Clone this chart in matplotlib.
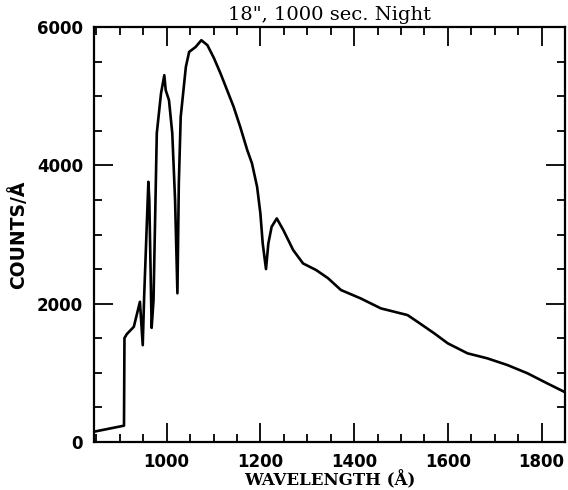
import matplotlib
matplotlib.use("Agg")
import matplotlib.pyplot as plt
from matplotlib.ticker import MultipleLocator

title = '18", 1000 sec. Night'
xlabel = "WAVELENGTH (Å)"
ylabel = "COUNTS/Å"

wavelength = [845, 909, 910, 915, 930, 943, 949, 952, 961, 963, 968, 972, 979,
              988, 995, 998, 1005, 1012, 1018, 1023, 1026, 1030, 1041, 1048,
              1062, 1074, 1087, 1101, 1115, 1129, 1143, 1157, 1172, 1182, 1193,
              1200, 1205, 1212, 1217, 1224, 1235, 1249, 1270, 1291, 1319, 1344,
              1372, 1414, 1457, 1514, 1535, 1571, 1600, 1642, 1684, 1727, 1770,
              1812, 1850]
counts = [149, 236, 1503, 1560, 1666, 2027, 1400, 2100, 3762, 3500, 1650, 2050,
          4465, 5040, 5303, 5087, 4942, 4465, 3497, 2150, 3740, 4700, 5423,
          5640, 5712, 5809, 5737, 5549, 5328, 5087, 4845, 4556, 4220, 4030,
          3690, 3306, 2870, 2500, 2870, 3111, 3232, 3064, 2775, 2582, 2486,
          2370, 2197, 2076, 1932, 1835, 1739, 1571, 1426, 1282, 1210, 1113,
          993, 848, 720]

xlim = (845, 1850)
ylim = (0, 6000)

fig = plt.figure(figsize=(5.68, 4.90), dpi=100)
ax = fig.add_axes([94 / 568, 48 / 490, (565 - 94) / 568, (442 - 27) / 490])

ax.plot(wavelength, counts, color="black", lw=1.9)
ax.set_xlim(*xlim)
ax.set_ylim(*ylim)

ax.xaxis.set_major_locator(MultipleLocator(200))
ax.xaxis.set_minor_locator(MultipleLocator(50))
ax.yaxis.set_major_locator(MultipleLocator(2000))
ax.yaxis.set_minor_locator(MultipleLocator(500))

ax.tick_params(which="both", direction="in", top=True, right=True, width=1.3, color="black")
ax.tick_params(which="major", length=14)
ax.tick_params(which="minor", length=6)
ax.tick_params(axis="x", which="major", pad=8)
ax.tick_params(axis="y", which="major", pad=8)
for s in ax.spines.values():
    s.set_linewidth(1.6)

for lab in ax.get_xticklabels() + ax.get_yticklabels():
    lab.set_fontfamily("DejaVu Sans")
    lab.set_fontweight("bold")
    lab.set_fontsize(12)

ax.set_title(title, fontfamily="DejaVu Serif", fontsize=14, pad=5)
ax.set_xlabel(xlabel, fontfamily="DejaVu Serif", fontweight="bold", fontsize=12, labelpad=0)
ax.set_ylabel(ylabel, fontfamily="DejaVu Sans", fontweight="bold", fontsize=13.5, labelpad=6)

fig.savefig("out.png", dpi=100)
